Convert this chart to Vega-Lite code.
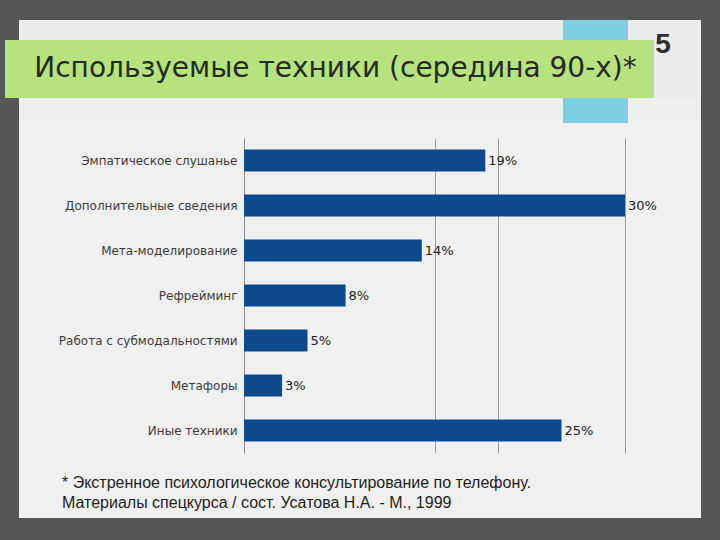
{
  "$schema": "https://vega.github.io/schema/vega-lite/v6.json",
  "background": "#565656",
  "padding": {"left": 5, "top": 20, "right": 19, "bottom": 22},
  "config": {"view": {"stroke": null}, "concat": {"spacing": 0}},
  "spacing": 0,
  "vconcat": [
    {
      "spacing": 0,
      "hconcat": [
        {
          "spacing": 0,
          "vconcat": [
            {
              "spacing": 0,
              "hconcat": [
                {"width": 14, "height": 20, "data": {"values": [{}]}, "mark": "text", "encoding": {"text": {"value": ""}}, "view": {"fill": null, "stroke": null}},
                {"width": 544, "height": 20, "data": {"values": [{}]}, "mark": "text", "encoding": {"text": {"value": ""}}, "view": {"fill": "#ebebeb", "stroke": null}},
                {"width": 65, "height": 20, "data": {"values": [{}]}, "mark": "text", "encoding": {"text": {"value": ""}}, "view": {"fill": "#7fcfe2", "stroke": null}},
                {"width": 26, "height": 20, "data": {"values": [{}]}, "mark": "text", "encoding": {"text": {"value": ""}}, "view": {"fill": "#ebebeb", "stroke": null}}
              ]
            },
            {
              "width": 649, "height": 58,
              "data": {"values": [{"title": "Используемые техники (середина 90-х)*"}]},
              "mark": {"type": "text", "align": "center", "baseline": "middle", "font": "DejaVu Sans", "fontSize": 28, "color": "#262b24", "dx": 6},
              "encoding": {"text": {"field": "title"}},
              "view": {"fill": "#b6e37e", "stroke": null}
            }
          ]
        },
        {
          "width": 18, "height": 78,
          "data": {"values": [{"slide": "5"}]},
          "mark": {"type": "text", "align": "center", "baseline": "bottom", "font": "Liberation Sans", "fontSize": 28, "fontWeight": "bold", "color": "#2e2e2e"},
          "encoding": {"text": {"field": "slide"}},
          "view": {"fill": "#ebebeb", "stroke": null}
        },
        {"width": 29, "height": 78, "data": {"values": [{}]}, "mark": "text", "encoding": {"text": {"value": ""}}, "view": {"fill": "#ebebeb", "stroke": null}}
      ]
    },
    {
      "spacing": 0,
      "hconcat": [
        {"width": 14, "height": 25, "data": {"values": [{}]}, "mark": "text", "encoding": {"text": {"value": ""}}, "view": {"fill": null, "stroke": null}},
        {"width": 544, "height": 25, "data": {"values": [{}]}, "mark": "text", "encoding": {"text": {"value": ""}}, "view": {"fill": "#efefef", "stroke": null}},
        {"width": 65, "height": 25, "data": {"values": [{}]}, "mark": "text", "encoding": {"text": {"value": ""}}, "view": {"fill": "#7fcfe2", "stroke": null}},
        {"width": 73, "height": 25, "data": {"values": [{}]}, "mark": "text", "encoding": {"text": {"value": ""}}, "view": {"fill": "#efefef", "stroke": null}}
      ]
    },
    {
      "spacing": 0,
      "hconcat": [
        {"width": 14, "height": 345, "data": {"values": [{}]}, "mark": "text", "encoding": {"text": {"value": ""}}, "view": {"fill": null, "stroke": null}},
        {
          "width": 682, "height": 345,
          "view": {"fill": "#f0f0f0", "stroke": null},
          "data": {"values": [
            {"technique": "Эмпатическое слушанье", "share": 0.19},
            {"technique": "Дополнительные сведения", "share": 0.30},
            {"technique": "Мета-моделирование", "share": 0.14},
            {"technique": "Рефрейминг", "share": 0.08},
            {"technique": "Работа с субмодальностями", "share": 0.05},
            {"technique": "Метафоры", "share": 0.03},
            {"technique": "Иные техники", "share": 0.25}
          ]},
          "encoding": {
            "y": {
              "field": "technique", "type": "nominal", "sort": null,
              "scale": {"range": [15, 330], "paddingInner": 0.51, "paddingOuter": 0.255},
              "axis": {"title": null, "offset": -225, "domainColor": "#8f8f8f", "domainWidth": 1, "ticks": false, "labelFont": "DejaVu Sans", "labelFontSize": 12, "labelColor": "#3c3c3c", "labelPadding": 7, "labelLimit": 0, "grid": false}
            },
            "x": {
              "field": "share", "type": "quantitative",
              "scale": {"domain": [0, 0.3], "range": [225, 606], "nice": false},
              "axis": {"orient": "bottom", "offset": 0, "minExtent": 0, "maxExtent": 0, "title": null, "domain": false, "labels": false, "ticks": false, "grid": true, "gridColor": "#9c9c9c", "gridWidth": 1, "values": [0, 0.15, 0.2, 0.3]}
            }
          },
          "layer": [
            {"mark": {"type": "bar", "color": "#0c4a8b"}},
            {"mark": {"type": "text", "align": "left", "baseline": "middle", "dx": 3, "font": "DejaVu Sans", "fontSize": 13, "color": "#222222"}, "encoding": {"text": {"field": "share", "type": "quantitative", "format": ".0%"}}}
          ]
        }
      ]
    },
    {
      "spacing": 0,
      "hconcat": [
        {"width": 14, "height": 50, "data": {"values": [{}]}, "mark": "text", "encoding": {"text": {"value": ""}}, "view": {"fill": null, "stroke": null}},
        {
          "width": 682, "height": 50,
          "title": {
            "text": ["* Экстренное психологическое консультирование по телефону.", "Материалы спецкурса / сост. Усатова Н.А. - М., 1999"],
            "orient": "bottom", "anchor": "start", "frame": "group", "offset": -43, "dx": 43,
            "baseline": "top", "font": "Liberation Sans", "fontSize": 16, "fontWeight": "normal", "color": "#1e1e1e", "lineHeight": 20
          },
          "data": {"values": [{}]}, "mark": "text", "encoding": {"text": {"value": ""}},
          "view": {"fill": "#f0f0f0", "stroke": null}
        }
      ]
    }
  ]
}
